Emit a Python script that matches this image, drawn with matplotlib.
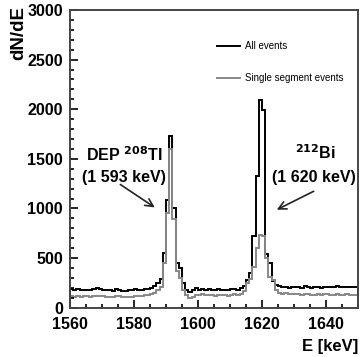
import numpy as np
import matplotlib.pyplot as plt
from matplotlib.ticker import MultipleLocator

plt.rcParams['font.family'] = ['Liberation Sans', 'DejaVu Sans']

# 1 keV bins from 1560 to 1650
edges = np.arange(1560, 1651, 1)

all_events = [
    190, 175, 185, 180, 178, 182, 176, 184, 195, 188,
    180, 175, 178, 172, 185, 180, 170, 172, 183, 178,
    185, 180, 178, 190, 186, 200, 215, 250, 290, 555,
    1090, 1730, 1000, 450, 400, 250, 175, 160, 180, 195,
    180, 190, 175, 185, 180, 178, 188, 176, 182, 175,
    185, 190, 178, 200, 220, 280, 350, 720, 1330, 2090,
    1990, 540, 450, 270, 225, 215, 205, 210, 200, 205,
    210, 205, 200, 215, 205, 198, 210, 205, 200, 208,
    212, 205, 210, 215, 208, 210, 212, 210, 208, 210,
]

single_events = [
    118, 112, 116, 110, 114, 118, 112, 116, 122, 118,
    114, 110, 112, 108, 116, 114, 108, 106, 112, 110,
    115, 120, 118, 125, 130, 140, 150, 180, 205, 450,
    950, 1600, 890, 370, 300, 180, 130, 100, 110, 125,
    128, 135, 125, 130, 128, 122, 130, 125, 128, 120,
    130, 135, 128, 140, 170, 250, 290, 410, 600, 730,
    720, 500, 310, 280, 180, 150, 140, 145, 135, 140,
    138, 135, 130, 140, 135, 128, 132, 136, 130, 138,
    135, 130, 133, 138, 132, 130, 135, 128, 126, 130,
]

fig = plt.figure(figsize=(3.61, 3.57), dpi=100)
ax = fig.add_axes([0.194, 0.138, 0.798, 0.834])

ax.stairs(all_events, edges, color='black', lw=1.4, label='All events')
ax.stairs(single_events, edges, color='#888888', lw=1.4, label='Single segment events')

ax.set_xlim(1560, 1650)
ax.set_ylim(0, 3000)
ax.xaxis.set_major_locator(MultipleLocator(20))
ax.xaxis.set_minor_locator(MultipleLocator(5))
ax.yaxis.set_major_locator(MultipleLocator(500))
ax.yaxis.set_minor_locator(MultipleLocator(100))
ax.tick_params(which='both', direction='in', top=False, right=False,
               labelsize=11.5, width=1.2)
ax.tick_params(which='major', length=6)
ax.tick_params(which='minor', length=3)
ax.tick_params(axis='y', pad=5)
ax.tick_params(axis='x', pad=7)
for lab in ax.get_xticklabels() + ax.get_yticklabels():
    lab.set_fontweight('bold')
for sp in ax.spines.values():
    sp.set_color('#444444')
    sp.set_linewidth(1.4)

fig.text(19 / 361, 1 - 6 / 357, 'dN/dE', rotation=90, ha='center', va='top',
         fontsize=13.5, fontweight='bold')
fig.text(358 / 361, 1 - 346 / 357, 'E [keV]', ha='right', va='center',
         fontsize=12, fontweight='bold')

leg = ax.legend(loc='upper left', bbox_to_anchor=(0.479, 0.925), frameon=False,
                fontsize=7, labelspacing=2.3, handlelength=2.4, handletextpad=0.5)

bold = dict(fontsize=11.5, fontweight='bold', ha='center', va='center')
ax.text(1576.9, 1540, r'DEP $\mathbf{^{208}}$Tl', **bold)
ax.text(1576.9, 1317, '(1 593 keV)', **bold)
ax.text(1636.6, 1560, r'$\mathbf{^{212}}$Bi', **bold)
ax.text(1636.2, 1317, '(1 620 keV)', **bold)

arrow = dict(arrowstyle='->', color='#222222', lw=1.2, mutation_scale=14)
ax.annotate('', xy=(1587.2, 995), xytext=(1575, 1257), arrowprops=arrow)
ax.annotate('', xy=(1623.8, 975), xytext=(1636.9, 1186), arrowprops=arrow)

fig.savefig('out.png', dpi=100)
